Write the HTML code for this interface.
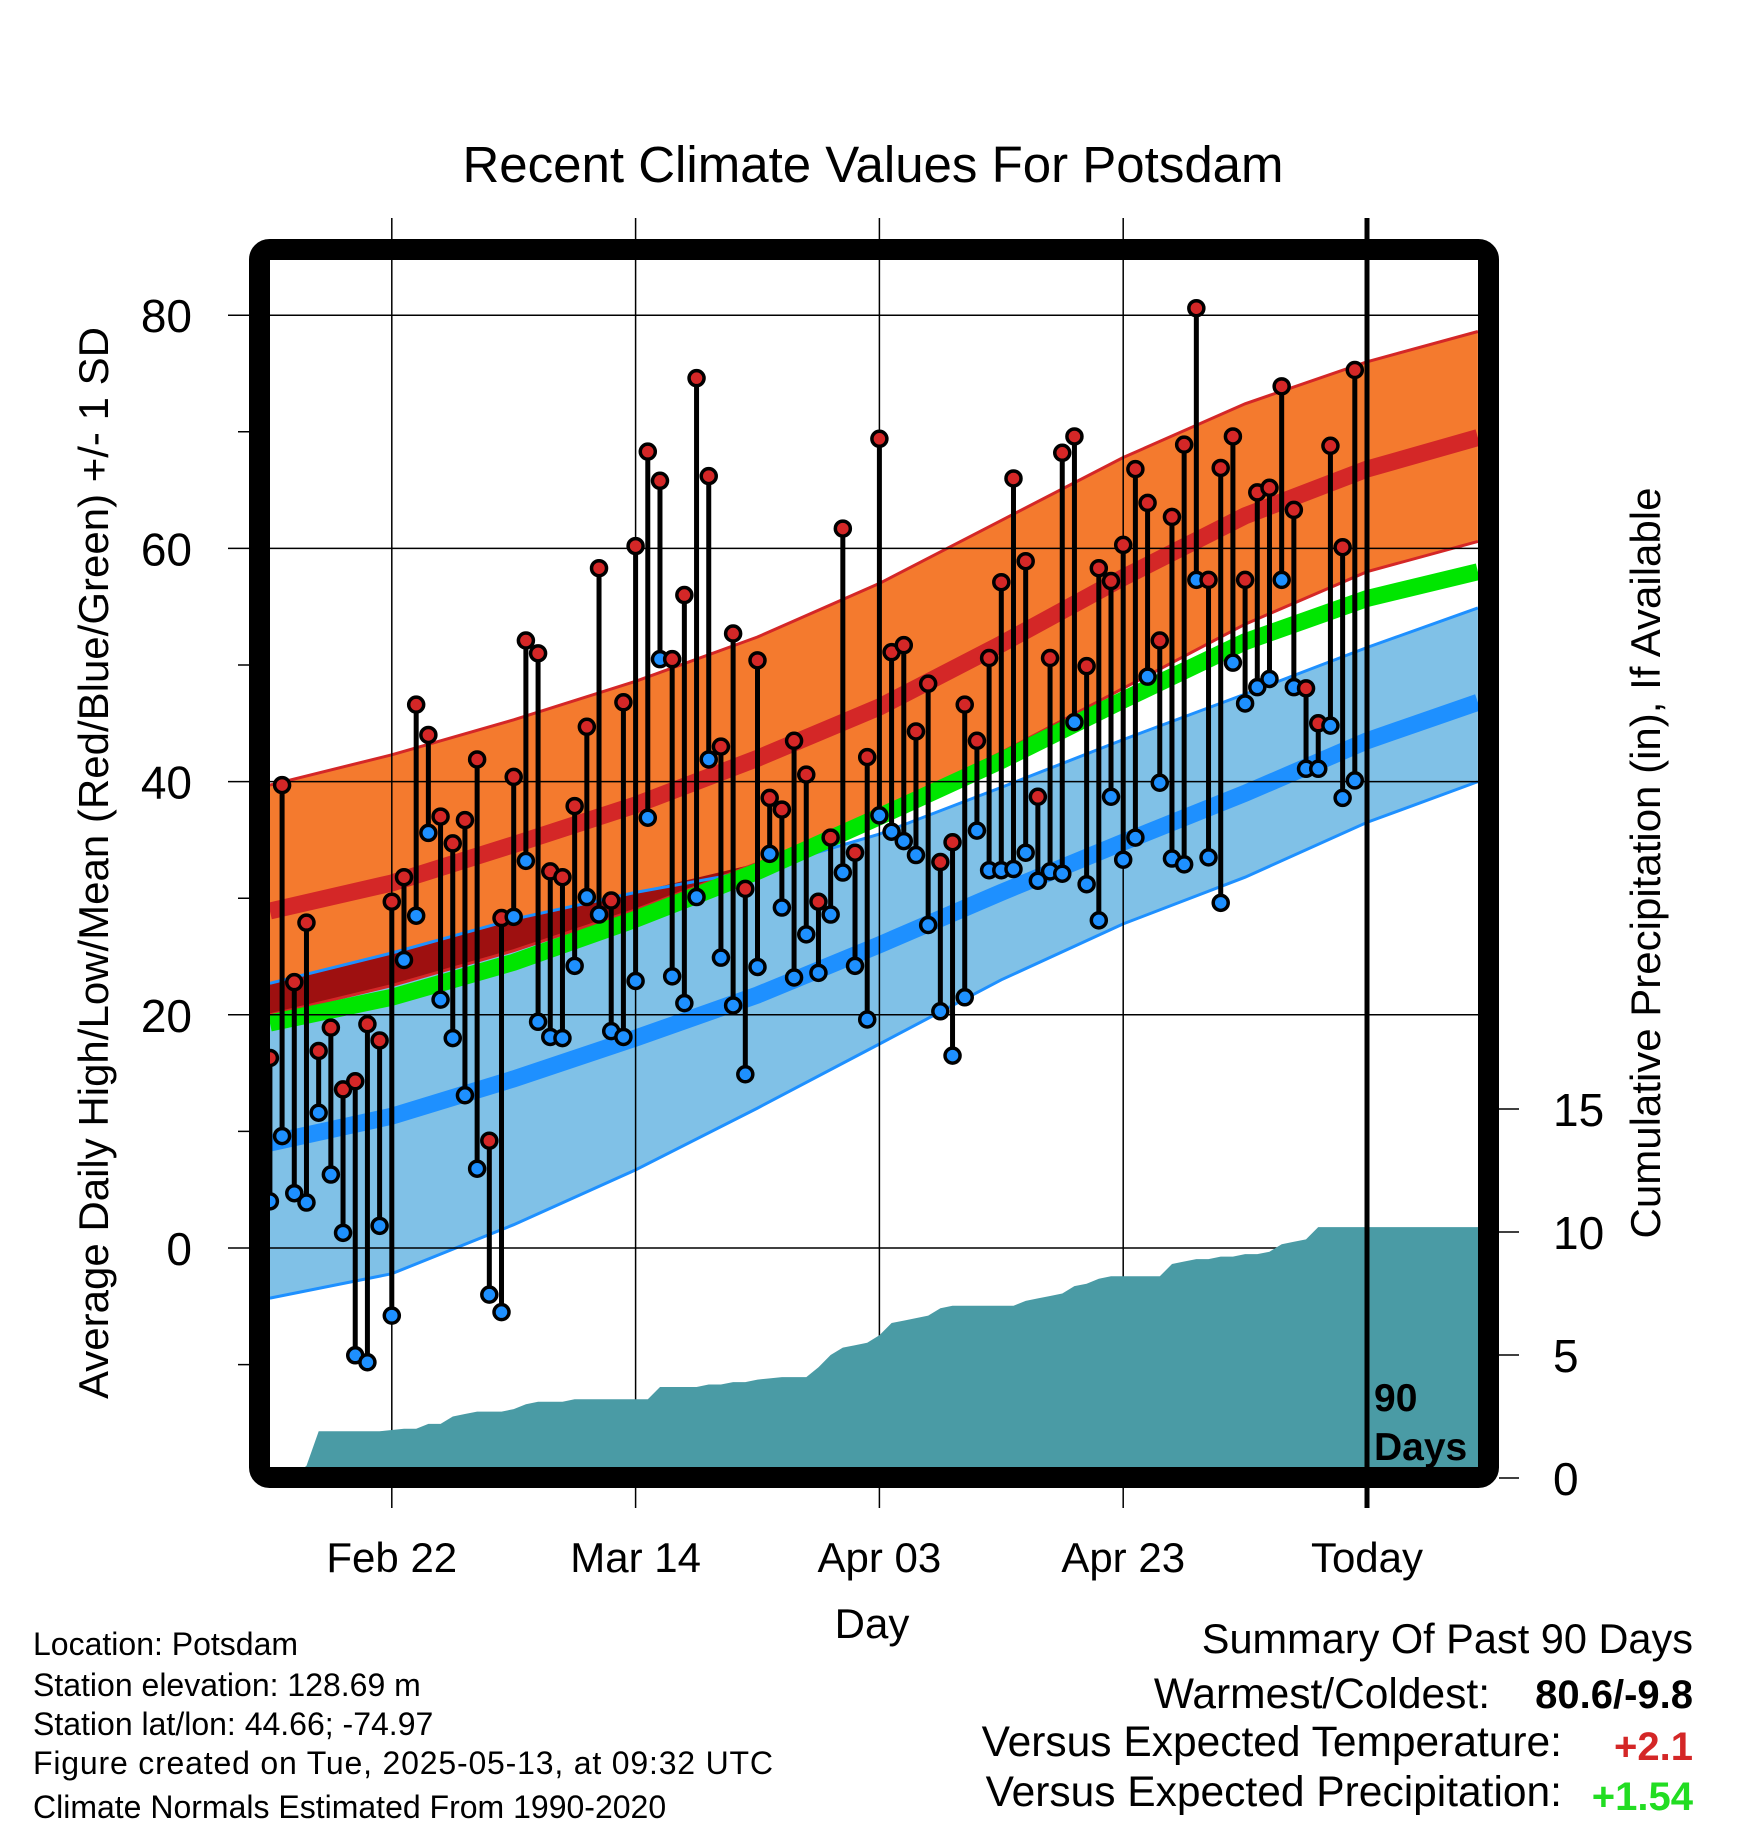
<!DOCTYPE html>
<html><head><meta charset="utf-8"><style>
html,body{margin:0;padding:0;background:#fff;}
svg{display:block;font-family:"Liberation Sans",Arial,sans-serif;}
</style></head><body>
<svg id="chart" xmlns="http://www.w3.org/2000/svg" width="1748" height="1828" viewBox="0 0 1748 1828">
<text x="873" y="182" font-size="51" text-anchor="middle">Recent Climate Values For Potsdam</text>
<g id="bands"></g>
<g id="grid"></g>
<g id="precip"></g>
<g id="marks"></g>
<rect x="259.5" y="249.5" width="1229" height="1228" rx="10" fill="none" stroke="#000" stroke-width="21"/>
<g id="axes"></g>
<text x="1374" y="1411" font-size="39" font-weight="bold">90</text>
<text x="1374" y="1460" font-size="39" font-weight="bold">Days</text>
<text x="872" y="1638" font-size="42" text-anchor="middle">Day</text>
<text transform="translate(108,863) rotate(-90)" font-size="42" text-anchor="middle">Average Daily High/Low/Mean (Red/Blue/Green) +/- 1 SD</text>
<text transform="translate(1660,863) rotate(-90)" font-size="42" text-anchor="middle">Cumulative Precipitation (in), If Available</text>
<g font-size="32">
<text x="33" y="1655">Location: Potsdam</text>
<text x="33" y="1696">Station elevation: 128.69 m</text>
<text x="33" y="1735">Station lat/lon: 44.66; -74.97</text>
<text x="33" y="1774" textLength="740">Figure created on Tue, 2025-05-13, at 09:32 UTC</text>
<text x="33" y="1818">Climate Normals Estimated From 1990-2020</text>
</g>
<g font-size="42.5">
<text x="1693" y="1653" text-anchor="end" font-size="41.5">Summary Of Past 90 Days</text>
<text x="1490" y="1708" text-anchor="end">Warmest/Coldest:</text>
<text x="1693" y="1708" text-anchor="end" font-weight="bold" font-size="40">80.6/-9.8</text>
<text x="1562" y="1756" text-anchor="end">Versus Expected Temperature:</text>
<text x="1693" y="1760" text-anchor="end" font-weight="bold" font-size="40" fill="#d42727">+2.1</text>
<text x="1562" y="1806" text-anchor="end">Versus Expected Precipitation:</text>
<text x="1693" y="1810" text-anchor="end" font-weight="bold" font-size="40" fill="#22dd22">+1.54</text>
</g>
</svg>
<script>
// ---- data ----
const highs = [16.3,39.7,22.8,27.9,16.9,18.9,13.6,14.3,19.2,17.8,29.7,31.8,46.6,44,37,34.7,36.7,41.9,9.2,28.3,40.4,52.1,51,32.3,31.8,37.9,44.7,58.3,29.8,46.8,60.2,68.3,65.8,50.5,56,74.6,66.2,43,52.7,30.8,50.4,38.6,37.6,43.5,40.6,29.7,35.2,61.7,33.9,42.1,69.4,51.1,51.7,44.3,48.4,33.1,34.8,46.6,43.5,50.6,57.1,66,58.9,38.7,50.6,68.2,69.6,49.9,58.3,57.2,60.3,66.8,63.9,52.1,62.7,68.9,80.6,57.3,66.9,69.6,57.3,64.8,65.2,73.9,63.3,48,45,68.8,60.1,75.3];
const lows = [4,9.6,4.7,3.9,11.6,6.3,1.3,-9.2,-9.8,1.9,-5.8,24.7,28.5,35.6,21.3,18,13.1,6.8,-4,-5.5,28.4,33.2,19.4,18.1,18,24.2,30.1,28.6,18.6,18.1,22.9,36.9,50.5,23.3,21,30.1,41.9,24.9,20.8,14.9,24.1,33.8,29.2,23.2,26.9,23.6,28.6,32.2,24.2,19.6,37.1,35.7,34.9,33.7,27.7,20.3,16.5,21.5,35.8,32.4,32.4,32.5,33.9,31.5,32.3,32.1,45.1,31.2,28.1,38.7,33.3,35.2,49,39.9,33.4,32.9,57.3,33.5,29.6,50.2,46.7,48.1,48.8,57.3,48.1,41.1,41.1,44.8,38.6,40.1];
const precipCum = [0,0.05,0.1,0.5,1.9,1.9,1.9,1.9,1.9,1.9,1.95,2,2,2.2,2.2,2.5,2.6,2.7,2.7,2.7,2.8,3,3.1,3.1,3.1,3.2,3.2,3.2,3.2,3.2,3.2,3.2,3.7,3.7,3.7,3.7,3.8,3.8,3.9,3.9,4,4.05,4.1,4.1,4.1,4.5,5,5.3,5.4,5.5,5.8,6.3,6.4,6.5,6.6,6.9,7,7,7,7,7,7,7.2,7.3,7.4,7.5,7.8,7.9,8.1,8.2,8.2,8.2,8.2,8.2,8.7,8.8,8.9,8.9,9,9,9.1,9.1,9.2,9.5,9.6,9.7,10.2,10.2,10.2,10.2];
const normDays = [-90,-80,-70,-60,-50,-40,-30,-20,-10,0,9.1];
const highUpper = [39.7,42.3,45.3,48.6,52.4,57,62.4,67.8,72.4,76,78.6];
const highMean = [28.9,31.3,34.6,38,42,46.4,51.8,57.5,62.8,66.8,69.5];
const highLower = [20,22.5,25.5,29,33,37.3,42.5,48,53.5,58,60.6];
const avgMean = [19.3,21.5,24.5,28.2,32.3,37,41.8,47,52,55.7,58];
const lowUpper = [22.7,25.3,28.2,30.5,32.4,35.5,39.5,43.6,47.5,51.5,54.9];
const lowMean = [9,11.3,14.5,18,21.7,26,30.5,34.8,39,43.5,46.8];
const lowLower = [-4.3,-2.2,2,6.7,12,17.5,23,27.8,31.8,36.5,40];
const tempTicks = [0,20,40,60,80];
const tempMinor = [-10,10,30,50,70];
const precipTicks = [0,5,10,15];
const dateTicks = [-80,-60,-40,-20,0];
const dateLabels = ["Feb 22","Mar 14","Apr 03","Apr 23","Today"];

// ---- scales ----
const NS="http://www.w3.org/2000/svg";
const X0=270, X1=1478, Y0=260, Y1=1468;
function xs(d){return 1367+d*12.19;}
function ys(v){return 1248-v*11.66;}
function yp(p){return 1478-p*24.6;}
function mk(tag,attrs,parent){const e=document.createElementNS(NS,tag);for(const k in attrs)e.setAttribute(k,attrs[k]);parent.appendChild(e);return e;}
function pts(arr,off){return normDays.map((d,i)=>[xs(d),ys(arr[i]+(off||0))]);}
function fmt(p){return p.map(q=>q[0].toFixed(1)+','+q[1].toFixed(1)).join(' ');}
function band(upper,lower){return fmt(upper.concat(lower.slice().reverse()));}
const bands=document.getElementById('bands');
let e=mk('polygon',{points:band(pts(lowUpper),pts(lowLower)),fill:'#80c1e7'},bands);


e=mk('polygon',{points:band(pts(highUpper),pts(highLower)),fill:'#f47a2e'},bands);


const ovU=normDays.map((d,i)=>[xs(d),ys(Math.max(lowUpper[i],highLower[i]))]);
const ovL=normDays.map((d,i)=>[xs(d),ys(highLower[i])]);
e=mk('polygon',{points:band(ovU,ovL),fill:'#9e1010'},bands);


[[highUpper,'#d42727','high-upper-edge'],[highLower,'#d42727','high-lower-edge'],[lowUpper,'#1e90ff','low-upper-edge'],[lowLower,'#1e90ff','low-lower-edge']].forEach(a=>{
  const l=mk('polyline',{points:fmt(pts(a[0])),fill:'none',stroke:a[1],'stroke-width':3},bands);
  
  
});
[[highMean,'#d42727','high-mean-line'],[lowMean,'#1e90ff','low-mean-line'],[avgMean,'#00e600','avg-mean-line']].forEach(a=>{
  const l=mk('polyline',{points:fmt(pts(a[0])),fill:'none',stroke:a[1],'stroke-width':17},bands);
  
  
});
const grid=document.getElementById('grid');
tempTicks.forEach(v=>{const l=mk('line',{x1:228,x2:X1,y1:ys(v),y2:ys(v),stroke:'#000','stroke-width':1.5},grid);
  
  });
tempMinor.forEach(v=>{const l=mk('line',{x1:238,x2:270,y1:ys(v),y2:ys(v),stroke:'#000','stroke-width':1.5},grid);
  
  });
dateTicks.forEach((d,i)=>{const l=mk('line',{x1:xs(d),x2:xs(d),y1:218,y2:1508,stroke:'#000','stroke-width':d===0?5:1.5},grid);
  
  });
const pg=document.getElementById('precip');
let pp=[[xs(-90),Y1]];
precipCum.forEach((p,i)=>{pp.push([xs(-90+i),yp(p)]);});
pp.push([xs(-1)+6,yp(precipCum[precipCum.length-1])]);
pp.push([X1,yp(precipCum[precipCum.length-1])]);
pp.push([X1,Y1]);
e=mk('polygon',{points:fmt(pp),fill:'#4a9ba5'},pg);


e=mk('line',{x1:xs(0),x2:xs(0),y1:260,y2:1468,stroke:'#000','stroke-width':5},pg);


const mg=document.getElementById('marks');
highs.forEach((h,i)=>{const x=xs(-90+i);
  const s=mk('line',{x1:x,x2:x,y1:ys(h),y2:ys(lows[i]),stroke:'#000','stroke-width':5},mg);
  
  });
highs.forEach((h,i)=>{const x=xs(-90+i);
  const c1=mk('circle',{cx:x,cy:ys(lows[i]),r:7.5,fill:'#1e90ff',stroke:'#000','stroke-width':3.5},mg);
  
  
  const c2=mk('circle',{cx:x,cy:ys(h),r:7.5,fill:'#d42727',stroke:'#000','stroke-width':3.5},mg);
  
  });
const ax=document.getElementById('axes');
tempTicks.forEach(v=>{const t=mk('text',{x:192,y:ys(v)+17,'font-size':46,'text-anchor':'end'},ax);t.textContent=v;
  
  });
precipTicks.forEach(p=>{const l=mk('line',{x1:1499,x2:1519,y1:yp(p),y2:yp(p),stroke:'#000','stroke-width':1.5},ax);
  
  
  const t=mk('text',{x:1553,y:yp(p)+17,'font-size':46},ax);t.textContent=p;
  
  });
dateTicks.forEach((d,i)=>{const t=mk('text',{x:xs(d),y:1572,'font-size':42,'text-anchor':'middle'},ax);t.textContent=dateLabels[i];
  
  });
</script>
</body></html>
